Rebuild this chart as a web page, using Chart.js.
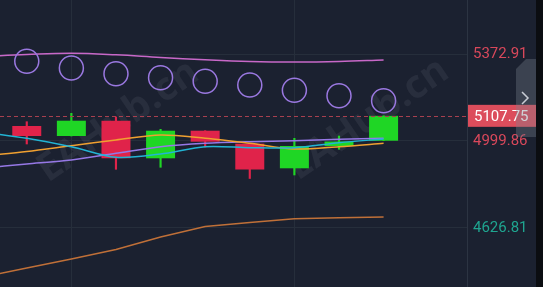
<!DOCTYPE html>
<html>
<head>
<meta charset="utf-8">
<script src="https://cdn.jsdelivr.net/npm/chart.js@4/dist/chart.umd.min.js"></script>
<style>
  html, body { margin: 0; padding: 0; background: #1b2130; }
  #wrap { width: 543px; height: 287px; position: relative; }
</style>
</head>
<body>
<div id="wrap"><canvas id="myChart"></canvas></div>
<script>
"use strict";

// candles (index 0..8)
const candleIdx = [0, 1, 2, 3, 4, 5, 6, 7, 8];
const opens  = [5064.2, 5021.3, 5086.9, 4925.7, 5044.0, 4988.3, 4882.8, 4978.4, 5001.1];
const closes = [5021.3, 5086.9, 4925.7, 5044.0, 4996.9, 4877.6, 4978.4, 4997.7, 5107.75];
const highs  = [5082.6, 5118.6, 5102.8, 5050.0, 5044.0, 4988.3, 5011.4, 5021.3, 5107.75];
const lows   = [4987.0, 5021.3, 4878.5, 4887.1, 4974.0, 4839.1, 4854.1, 4964.3, 5001.1];

// parabolic dots
const sarValues = [5341.6, 5312.9, 5288.4, 5271.3, 5255.9, 5240.0, 5217.3, 5194.1, 5172.7];

// indicator lines (index -1..8)
const lineIdx = [-1, 0, 1, 2, 3, 4, 5, 6, 7, 8];
const upperBand = [5362.2, 5370.8, 5375.9, 5369.5, 5357.9, 5348.0, 5340.8, 5338.6, 5340.8, 5347.2];
const lowerBand = [4416.7, 4455.3, 4493.9, 4534.6, 4588.2, 4633.2, 4650.4, 4666.7, 4671.0, 4674.0];
const maCyan   = [5038.4, 5011.4, 4975.4, 4930.0, 4944.1, 4975.4, 4971.1, 4971.1, 4992.6, 5008.4];
const maOrange = [4935.5, 4954.8, 4979.7, 5004.2, 5025.6, 5011.4, 4990.0, 4965.6, 4975.4, 4990.0];
const maPurple = [4884.1, 4901.2, 4918.4, 4947.1, 4975.4, 4990.0, 4996.9, 5001.1, 5007.2, 5011.4];

const tickValues = [4626.81, 4999.86, 5372.91];
const tickColors = ["#1fa590", "#d9485b", "#d9485b"];
const lastPrice = 5107.75;

const UP = "#1fd625";
const DOWN = "#e0234a";

const pts = (xs, ys) => xs.map((x, i) => ({ x: x, y: ys[i] }));
const candleColor = candleIdx.map(i => (closes[i] >= opens[i] ? UP : DOWN));

const overlay = {
  id: "overlay",
  beforeDraw(chart) {
    const c = chart.ctx;
    c.save();
    c.fillStyle = "#1b2130";
    c.fillRect(0, 0, chart.width, chart.height);
    c.restore();
  },
  beforeDatasetsDraw(chart) {
    const c = chart.ctx;
    c.save();
    // watermark
    c.fillStyle = "rgba(200,205,215,0.08)";
    c.font = "bold 39px 'Open Sans'";
    [[48, 183], [298, 181]].forEach(p => {
      c.save();
      c.translate(p[0], p[1]);
      c.rotate(-0.6);
      c.fillText("EAHub.cn", 0, 0);
      c.restore();
    });
    c.restore();
  },
  afterDatasetsDraw(chart) {
    const c = chart.ctx;
    const a = chart.chartArea;
    const y = chart.scales.y.getPixelForValue(lastPrice);
    c.save();
    // last price dashed line
    c.strokeStyle = "#a8404f";
    c.lineWidth = 1;
    c.setLineDash([4, 3]);
    c.beginPath();
    c.moveTo(a.left, Math.round(y) + 0.5);
    c.lineTo(a.right, Math.round(y) + 0.5);
    c.stroke();
    c.setLineDash([]);
    // price box
    c.fillStyle = "#dc4d5c";
    c.fillRect(a.right + 1, y - 11, 70, 22);
    c.fillStyle = "#ffffff";
    c.font = "15px Roboto";
    c.textBaseline = "middle";
    c.fillText(lastPrice.toFixed(2), a.right + 7, y + 1);
    // side panel with chevron
    c.fillStyle = "rgba(120,128,140,0.35)";
    c.beginPath();
    c.moveTo(516, 69);
    c.lineTo(526, 59);
    c.lineTo(536, 59);
    c.lineTo(536, 137);
    c.lineTo(516, 137);
    c.closePath();
    c.fill();
    c.strokeStyle = "#c8ccd4";
    c.lineWidth = 1.5;
    c.beginPath();
    c.moveTo(522, 92);
    c.lineTo(528, 98);
    c.lineTo(522, 104);
    c.stroke();
    // dark edge
    c.fillStyle = "#0b0d11";
    c.fillRect(536, 0, chart.width - 536, chart.height);
    c.restore();
  }
};

const ctx = document.getElementById("myChart");

new Chart(ctx, {
  type: "bar",
  data: {
    datasets: [
      {
        type: "line",
        data: pts(candleIdx, sarValues),
        showLine: false,
        pointRadius: 12,
        pointBorderWidth: 1.5,
        pointBorderColor: "#9a78e0",
        pointBackgroundColor: "rgba(0,0,0,0)",
        order: 0,
      },
      {
        type: "line",
        data: pts(lineIdx, upperBand),
        borderColor: "#c868c8",
        borderWidth: 1.5,
        pointRadius: 0,
        tension: 0.4,
        order: 0,
      },
      {
        type: "line",
        data: pts(lineIdx, lowerBand),
        borderColor: "#c07038",
        borderWidth: 1.5,
        pointRadius: 0,
        tension: 0,
        order: 0,
      },
      {
        type: "line",
        data: pts(lineIdx, maCyan),
        borderColor: "#22b4d4",
        borderWidth: 1.5,
        pointRadius: 0,
        tension: 0.3,
        order: 0,
      },
      {
        type: "line",
        data: pts(lineIdx, maOrange),
        borderColor: "#f0a030",
        borderWidth: 1.5,
        pointRadius: 0,
        tension: 0.3,
        order: 0,
      },
      {
        type: "line",
        data: pts(lineIdx, maPurple),
        borderColor: "#9678e6",
        borderWidth: 1.5,
        pointRadius: 0,
        tension: 0.3,
        order: 0,
      },
      {
        data: candleIdx.map(i => ({ x: i, y: [opens[i], closes[i]] })),
        backgroundColor: candleColor,
        barPercentage: 0.65,
        categoryPercentage: 1,
        grouped: false,
        order: 1,
      },
      {
        data: candleIdx.map(i => ({ x: i, y: [lows[i], highs[i]] })),
        backgroundColor: candleColor,
        barThickness: 1.5,
        grouped: false,
        order: 2,
      },
    ],
  },
  options: {
    responsive: true,
    maintainAspectRatio: false,
    animation: false,
    layout: { padding: 0, autoPadding: false },
    plugins: { legend: { display: false }, tooltip: { enabled: false } },
    scales: {
      x: {
        type: "linear",
        offset: false,
        min: -0.6,
        max: 9.87,
        afterBuildTicks: s => { s.ticks = [{ value: 1 }, { value: 6 }]; },
        afterFit: s => { s.paddingLeft = 0; s.paddingRight = 0; s.height = 0; },
        ticks: { display: false },
        grid: { color: "#262e3b", drawTicks: false, offset: false },
        border: { display: false },
      },
      y: {
        position: "right",
        min: 4373.82,
        max: 5604.46,
        afterBuildTicks: s => { s.ticks = tickValues.map(v => ({ value: v })); },
        afterFit: s => { s.width = 76; s.paddingTop = 0; s.paddingBottom = 0; },
        grid: { color: "#262e3b", drawTicks: false },
        border: { display: true, color: "#2c3442" },
        ticks: {
          padding: 6,
          color: c => tickColors[c.index],
          font: { family: "Roboto", size: 15 },
          callback: v => v.toFixed(2),
        },
      },
    },
  },
  plugins: [overlay],
});
</script>
</body>
</html>
